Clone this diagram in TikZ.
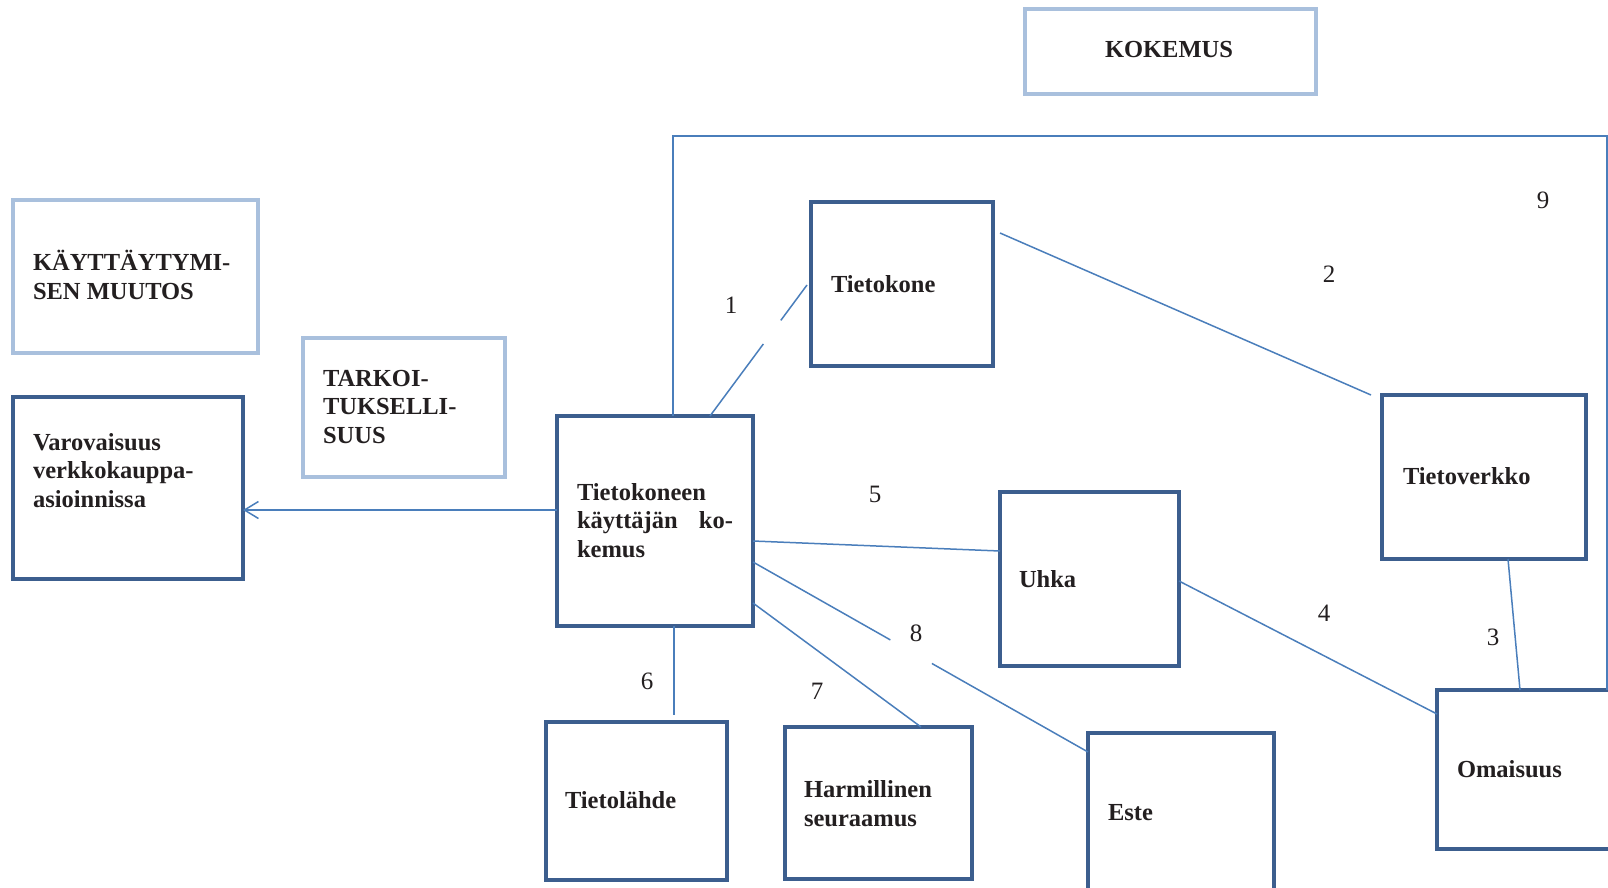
\documentclass[tikz,border=0pt]{standalone}
\usepackage{fontspec}
\setmainfont{Liberation Serif}
\usetikzlibrary{calc,arrows.meta}
\definecolor{boxdark}{HTML}{3C5E8E}
\definecolor{boxlight}{HTML}{A9C0DD}
\definecolor{linkblue}{HTML}{4A7EBB}
\definecolor{ink}{HTML}{231F20}
\begin{document}
\begin{tikzpicture}[x=1pt,y=-1pt,
  darkbox/.style={draw=boxdark,line width=4pt,rectangle,anchor=north west,inner sep=0pt,outer sep=0pt},
  lightbox/.style={draw=boxlight,line width=4pt,rectangle,anchor=north west,inner sep=0pt,outer sep=0pt},
  txt/.style={anchor=base west,inner sep=0pt,outer sep=0pt,align=left,text=ink,
    font=\fontsize{24.5}{28.5}\selectfont\bfseries},
  num/.style={inner sep=0pt,text=ink,font=\fontsize{25}{30}\selectfont},
  link/.style={draw=linkblue,line width=1.5pt}]
\useasboundingbox (0,0) rectangle (1608,887);

% boxes
\node[lightbox,minimum width=291pt,minimum height=85pt] (kok) at (1025,9) {};
\node[lightbox,minimum width=245pt,minimum height=153pt] (kay) at (13,200) {};
\node[lightbox,minimum width=202pt,minimum height=139pt] (tar) at (303,338) {};
\node[darkbox,minimum width=230pt,minimum height=182pt] (var) at (13,397) {};
\node[darkbox,minimum width=196pt,minimum height=210pt] (cen) at (557,416) {};
\node[darkbox,minimum width=182pt,minimum height=164pt] (tk) at (811,202) {};
\node[darkbox,minimum width=204pt,minimum height=164pt] (tv) at (1382,395) {};
\node[darkbox,minimum width=179pt,minimum height=174pt] (uh) at (1000,492) {};
\node[darkbox,minimum width=190pt,minimum height=159pt] (om) at (1437,690) {};
\node[darkbox,minimum width=181pt,minimum height=158pt] (tl) at (546,722) {};
\node[darkbox,minimum width=187pt,minimum height=152pt] (ha) at (785,727) {};
\node[darkbox,minimum width=186pt,minimum height=170pt] (es) at (1088,733) {};

% box texts (multi-line texts are placed by the baseline of their last line)
\node[txt,anchor=base] (tKok) at (1169,57) {KOKEMUS};
\node[txt] (tKay) at (33,299) {KÄYTTÄYTYMI-\\SEN MUUTOS};
\node[txt] (tTar) at (323,443) {TARKOI-\\TUKSELLI-\\SUUS};
\node[txt] (tVar) at (33,507) {Varovaisuus\\verkkokauppa-\\asioinnissa};
\node[txt] (tCen) at (577,557) {Tietokoneen\\\makebox[156pt]{käyttäjän\hfill ko-}\\kemus};
\node[txt] (tTk) at (831,292) {Tietokone};
\node[txt] (tTv) at (1403,484) {Tietoverkko};
\node[txt] (tUh) at (1019,587) {Uhka};
\node[txt] (tOm) at (1457,777) {Omaisuus};
\node[txt] (tTl) at (565,808) {Tietolähde};
\node[txt] (tHa) at (804,826) {Harmillinen\\seuraamus};
\node[txt] (tEs) at (1108,820) {Este};

% connector numbers
\node[num] (n1) at (731,305) {1};
\node[num] (n2) at (1329,274) {2};
\node[num] (n3) at (1493,637) {3};
\node[num] (n4) at (1324,613) {4};
\node[num] (n5) at (875,494) {5};
\node[num] (n6) at (647,681) {6};
\node[num] (n7) at (817,691) {7};
\node[num] (n8) at (916,633) {8};
\node[num] (n9) at (1543,200) {9};

% connector end points
\coordinate (a1) at (cen.north -| 710,0);
\coordinate (b1) at ([xshift=-4pt]tk.west |- 0,285);
\coordinate (a8) at (cen.east |- 0,562);
\coordinate (b8) at (es.west |- 0,752);
\coordinate (ftr) at (1607,136);

% connectors
\draw[link] (a1) -- ($(a1)!0.55!(b1)$) ($(a1)!0.73!(b1)$) -- (b1);
\draw[link] ([xshift=7pt]tk.east |- 0,233) -- ([xshift=-11pt]tv.north west);
\draw[link] (tv.south -| 1508,0) -- (om.north -| 1520,0);
\draw[link] (uh.east |- 0,581) -- (om.west |- 0,714);
\draw[link] (cen.east |- 0,541) -- (uh.west |- 0,551);
\draw[link] (cen.south -| 674,0) -- ([yshift=7pt]tl.north -| 674,0);
\draw[link] (cen.east |- 0,603) -- (ha.north -| 921,0);
\draw[link] (a8) -- ($(a8)!0.41!(b8)$) ($(a8)!0.534!(b8)$) -- (b8);
\draw[link] (cen.north -| 673,0) |- (ftr) -- (om.north -| ftr);
\draw[link,-{Straight Barb[length=14pt,width=17pt,line width=1.5pt]}]
  (cen.west |- 0,510) -- (var.east |- 0,510);
\end{tikzpicture}
\end{document}
